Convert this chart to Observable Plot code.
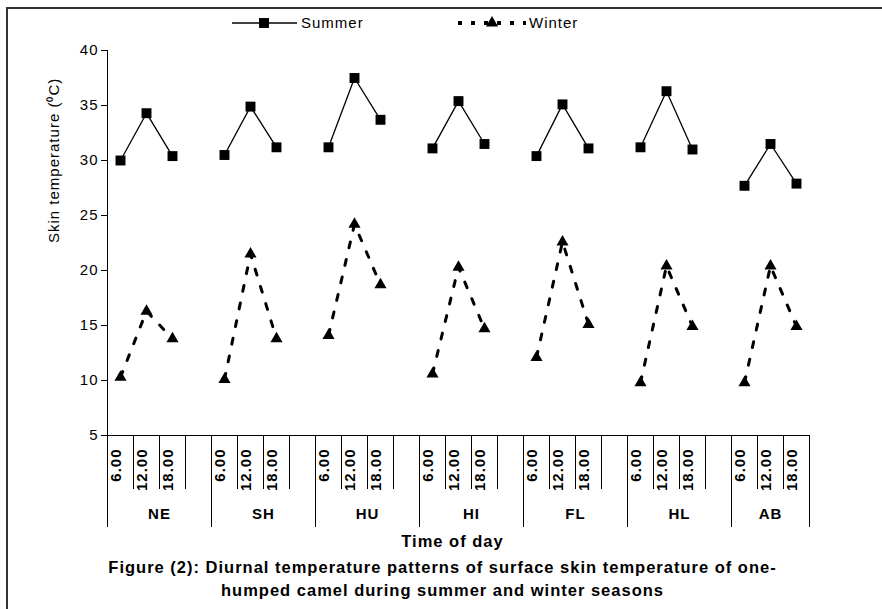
<!DOCTYPE html>
<html><head><meta charset="utf-8">
<script src="https://cdn.jsdelivr.net/npm/d3@7"></script>
<script src="https://cdn.jsdelivr.net/npm/@observablehq/plot@0.6"></script>
<style>
html,body{margin:0;padding:0;background:#fff;}
#wrap{position:relative;width:882px;height:609px;overflow:hidden;font-family:"Liberation Sans",Arial,sans-serif;background:#fff;}
#frame{position:absolute;left:6px;top:7px;width:900px;height:620px;border-left:2px solid #333;border-top:2px solid #333;}
#wrap svg{position:absolute;left:0;top:0;}
</style></head><body><div id="wrap"><div id="frame"></div></div>
<script>
const groups = ["NE", "SH", "HU", "HI", "FL", "HL", "AB"];
const times = ["6.00", "12.00", "18.00"];
const summer = [30.0, 34.3, 30.4, 30.5, 34.9, 31.2, 31.2, 37.5, 33.7, 31.1, 35.4, 31.5, 30.4, 35.1, 31.1, 31.2, 36.3, 31.0, 27.7, 31.5, 27.9];
const winter = [10.3, 16.3, 13.8, 10.1, 21.5, 13.8, 14.1, 24.2, 18.7, 10.6, 20.3, 14.7, 12.1, 22.6, 15.1, 9.8, 20.4, 14.9, 9.8, 20.4, 14.9];
const yTicks = [5, 10, 15, 20, 25, 30, 35, 40];
const seriesNames = ["Summer", "Winter"];
const yLabel = "Skin temperature (\u2070C)";
const xLabel = "Time of day";
const caption = "Figure (2): Diurnal temperature patterns of surface skin temperature of one-\nhumped camel during summer and winter seasons";

const slotsPerGroup = 4;
const rows = [];
groups.forEach((g, gi) => times.forEach((t, ti) => {
  const k = gi * times.length + ti;
  rows.push({group: g, time: t, slot: gi * slotsPerGroup + ti + 0.5, summer: summer[k], winter: winter[k]});
}));
const nSlots = groups.length * slotsPerGroup - 1;
const groupEdges = groups.map((g, i) => i * slotsPerGroup).concat([nSlots]);
const innerEdges = d3.range(0, nSlots + 1).filter(e => !groupEdges.includes(e));
const groupLabels = groups.map((g, i) => ({group: g, center: (i * slotsPerGroup + Math.min((i + 1) * slotsPerGroup, nSlots)) / 2}));

const font = '"Liberation Sans", Arial, sans-serif';
const chart = Plot.plot({
  width: 882, height: 609,
  marginLeft: 107, marginRight: 73, marginTop: 50, marginBottom: 174,
  style: {fontFamily: font, fontSize: "15px", letterSpacing: "1px", color: "#000", background: "transparent", overflow: "visible"},
  x: {type: "linear", domain: [0, nSlots]},
  y: {domain: [5, 40]},
  marks: [
    Plot.axisY(yTicks, {tickSize: 6, tickPadding: 3, fontSize: 15, label: null}),
    Plot.axisX(innerEdges, {tickSize: 54, tickFormat: () => "", label: null}),
    Plot.axisX(groupEdges, {tickSize: 92, tickFormat: () => "", label: null}),
    Plot.ruleX([0], {stroke: "#000"}),
    Plot.ruleY([5], {stroke: "#000"}),
    Plot.text(rows, {x: "slot", text: "time", frameAnchor: "bottom", rotate: -90, textAnchor: "end", dy: 13, fontWeight: "bold", fontSize: 15}),
    Plot.text(groupLabels, {x: "center", text: "group", frameAnchor: "bottom", dy: 83, fontWeight: "bold", fontSize: 15}),
    Plot.text([xLabel], {frameAnchor: "bottom", dy: 111, dx: -6, fontWeight: "bold", fontSize: 16.5}),
    Plot.text([caption], {frameAnchor: "bottom", dy: 160, dx: -16, fontWeight: "bold", fontSize: 16.5, lineHeight: 1.35}),
    Plot.text([yLabel], {frameAnchor: "left", rotate: -90, dx: -53, fontSize: 15}),
    Plot.lineY(rows, {x: "slot", y: "summer", z: "group", stroke: "#000", strokeWidth: 1.3}),
    Plot.lineY(rows, {x: "slot", y: "winter", z: "group", stroke: "#000", strokeWidth: 3, strokeDasharray: "6,12"}),
    Plot.dot(rows, {x: "slot", y: "summer", symbol: "square", r: 5.6, fill: "#000"}),
    Plot.dot(rows, {x: "slot", y: "winter", symbol: "triangle", r: 4.5, fill: "#000"})
  ]
});
document.getElementById("wrap").appendChild(chart);

// legend overlay
const leg = d3.select("#wrap").append("svg")
  .attr("width", 882).attr("height", 40)
  .style("font-family", font).style("font-size", "15px").style("letter-spacing", "1px");
const s = leg.append("g").attr("transform", "translate(0,23)");
s.append("line").attr("x1", 232).attr("x2", 297).attr("stroke", "#000").attr("stroke-width", 1.3);
s.append("path").attr("d", d3.symbol(d3.symbolSquare, Math.PI * 5.6 * 5.6)()).attr("transform", "translate(264,0)");
s.append("text").attr("x", 301).attr("dy", "0.35em").text(seriesNames[0]);
const w = leg.append("g").attr("transform", "translate(0,23)");
w.append("line").attr("x1", 458).attr("x2", 526).attr("stroke", "#000").attr("stroke-width", 4).attr("stroke-dasharray", "4,9");
w.append("path").attr("d", d3.symbol(d3.symbolTriangle, Math.PI * 4.5 * 4.5)()).attr("transform", "translate(492,0)");
w.append("text").attr("x", 529).attr("dy", "0.35em").text(seriesNames[1]);
</script></body></html>
